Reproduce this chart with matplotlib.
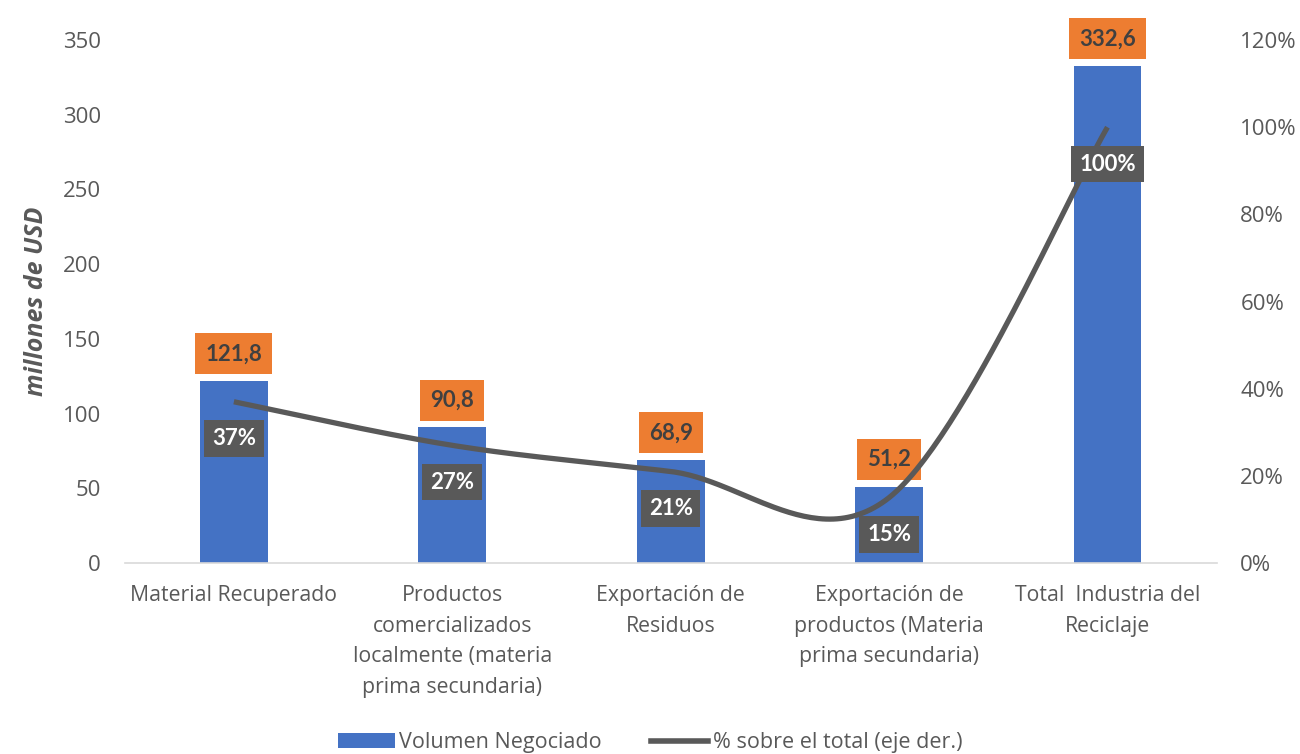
import numpy as np
import matplotlib
matplotlib.use("Agg")
import matplotlib.pyplot as plt
from matplotlib.patches import Patch
from matplotlib.lines import Line2D
from matplotlib.ticker import FuncFormatter

plt.rcParams['font.family'] = ['Open Sans', 'DejaVu Sans']

categorias = ["Material Recuperado",
              "Productos\ncomercializados\nlocalmente (materia\nprima secundaria)",
              "Exportación de\nResiduos",
              "Exportación de\nproductos (Materia\nprima secundaria)",
              "Total  Industria del\nReciclaje"]
volumen = [121.8, 90.8, 68.9, 51.2, 332.6]
porcentaje = [37, 27, 21, 15, 100]

azul = '#4472C4'
naranja = '#ED7D31'
gris = '#595959'
texto = '#595959'
etiqueta = ['Lato', 'DejaVu Sans']


def curva_suave(xs, ys, n=60):
    # bezier segments with catmull-rom style control points (like a smoothed office line)
    xs = np.asarray(xs, float)
    ys = np.asarray(ys, float)
    px = np.concatenate([[xs[0]], xs, [xs[-1]]])
    py = np.concatenate([[ys[0]], ys, [ys[-1]]])
    outx, outy = [], []
    t = np.linspace(0, 1, n)
    for i in range(1, len(px) - 2):
        p0 = np.array([px[i], py[i]])
        p3 = np.array([px[i + 1], py[i + 1]])
        c1 = p0 + (np.array([px[i + 1], py[i + 1]]) - np.array([px[i - 1], py[i - 1]])) / 6
        c2 = p3 - (np.array([px[i + 2], py[i + 2]]) - np.array([px[i], py[i]])) / 6
        b = ((1 - t) ** 3)[:, None] * p0 + (3 * (1 - t) ** 2 * t)[:, None] * c1 \
            + (3 * (1 - t) * t ** 2)[:, None] * c2 + (t ** 3)[:, None] * p3
        outx.extend(b[:, 0])
        outy.extend(b[:, 1])
    return np.array(outx), np.array(outy)


fig = plt.figure(figsize=(13, 7.54), dpi=100)
ax = fig.add_axes([0.0959, 0.2533, 0.840, 0.6936])
ax2 = ax.twinx()

x = np.arange(len(categorias))
ax.bar(x, volumen, width=0.31, color=azul, zorder=2)
ax.set_xlim(-0.5, len(categorias) - 0.5)
ax.set_ylim(0, 350)
ax.set_yticks(np.arange(0, 351, 50))
ax.set_xticks(x)
ax.set_xticklabels(categorias, linespacing=1.6, va='top', fontsize=15.3)
ax.tick_params(axis='both', length=0, colors=texto)
ax.tick_params(axis='y', pad=17, labelsize=16)
ax.tick_params(axis='x', pad=16)
ax.set_ylabel("millones de USD", fontsize=18, fontweight='bold', style='italic',
              color=texto)
ax.yaxis.set_label_coords(-0.069, 0.5)

for s in ['top', 'right', 'left']:
    ax.spines[s].set_visible(False)
    ax2.spines[s].set_visible(False)
ax.spines['bottom'].set_color('#D9D9D9')
ax.spines['bottom'].set_linewidth(1.2)
ax2.spines['bottom'].set_visible(False)

# etiquetas de volumen sobre cada barra
for xi, v in zip(x, volumen):
    ax.annotate(f"{v:.1f}".replace('.', ','), (xi, v), xytext=(0, 19.5),
                textcoords='offset points', ha='center', va='center',
                fontsize=16, fontweight='bold', color='#404040', zorder=5,
                family=etiqueta,
                bbox=dict(boxstyle='square,pad=0.45', fc=naranja, ec='none'))

# linea de porcentaje en el eje derecho
sx, sy = curva_suave(x, porcentaje)
ax2.plot(sx, np.array(sy) / 100, color=gris, lw=3.8, solid_capstyle='butt', zorder=3)
ax2.set_ylim(0, 1.2)
ax2.set_yticks(np.arange(0, 1.21, 0.2))
ax2.yaxis.set_major_formatter(FuncFormatter(lambda v, p: f"{v * 100:.0f}%"))
ax2.tick_params(axis='y', length=0, colors=texto, labelsize=16, pad=17)

for xi, p in zip(x, porcentaje):
    ax2.annotate(f"{p}%", (xi, p / 100), xytext=(0, -26.5),
                 textcoords='offset points', ha='center', va='center',
                 fontsize=16, fontweight='bold', color='white', zorder=6,
                 family=etiqueta,
                 bbox=dict(boxstyle='square,pad=0.35', fc=gris, ec='none'))

handles = [Patch(facecolor=azul, edgecolor='none'),
           Line2D([0], [0], color=gris, lw=4)]
fig.legend(handles, ["Volumen Negociado", "% sobre el total (eje der.)"],
           loc='center', bbox_to_anchor=(0.5, 0.0146), ncol=2, frameon=False,
           fontsize=15.5, labelcolor=texto, handlelength=2.65, handleheight=0.7,
           handletextpad=0.2, columnspacing=2.3)

fig.savefig("out.png", dpi=100)
